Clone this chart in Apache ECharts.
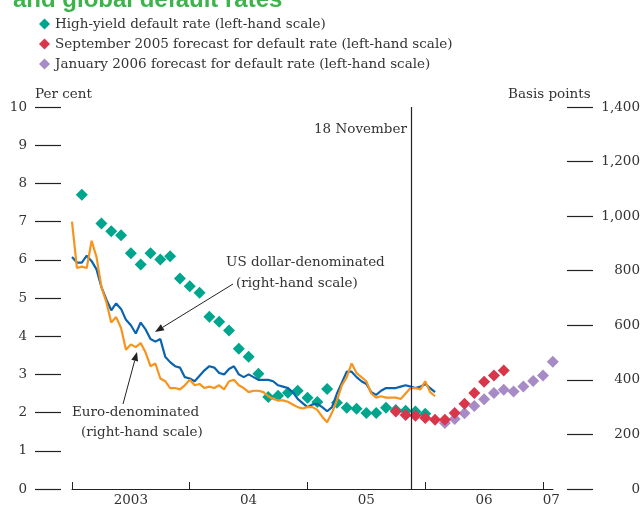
<!DOCTYPE html>
<html>
<head>
<meta charset="utf-8">
<script src="https://cdn.jsdelivr.net/npm/echarts@6/dist/echarts.min.js"></script>
<style>
html, body { margin: 0; padding: 0; background: #fff; }
#main { width: 644px; height: 509px; }
</style>
</head>
<body>
<div id="main"></div>
<script>
// 利差：每半月一个点，从2003年1月1日起（右轴，基点）
var spreadStart = 2003;
var usdSpread = [850, 830, 830, 855, 835, 805, 740, 695, 655, 680, 660, 620, 600, 570, 610, 585,
  550, 540, 550, 485, 465, 450, 445, 410, 405, 395, 415, 435, 450, 445, 425, 420,
  440, 450, 420, 410, 420, 410, 400, 400, 400, 395, 380, 375, 370, 355, 330, 315,
  300, 310, 312, 300, 285, 300, 350, 390, 430, 430, 410, 395, 385, 355, 345, 360,
  370, 370, 370, 375, 380, 375, 370, 375, 385, 370, 355];
var eurSpread = [980, 810, 815, 810, 910, 850, 740, 685, 610, 630, 590, 510, 530, 520, 535, 500,
  450, 460, 405, 395, 370, 370, 365, 380, 400, 380, 385, 370, 375, 370, 380, 365,
  395, 400, 380, 370, 355, 360, 360, 355, 340, 330, 325, 325, 320, 310, 300, 295,
  300, 300, 290, 265, 245, 280, 325, 380, 410, 460, 425, 410, 395, 350, 335, 340,
  335, 335, 335, 330, 350, 370, 370, 365, 395, 355, 340];

// 违约率（左轴，%），月份序号从2003年1月起算
var hyMonth0 = 1;
var hyDefault = [7.70, null, 6.95, 6.75, 6.64, 6.17, 5.88, 6.17, 6.01, 6.09, 5.51, 5.31,
  5.14, 4.51, 4.38, 4.15, 3.67, 3.46, 3.02, 2.41, 2.44, 2.52, 2.57, 2.39,
  2.28, 2.62, 2.26, 2.13, 2.10, 1.99, 1.99, 2.13, 2.07, 2.05, 2.03, 1.97];
var sepMonth0 = 33;
var sepForecast = [2.03, 1.94, 1.92, 1.86, 1.81, 1.81, 1.99, 2.23, 2.51, 2.81, 2.97, 3.10];
var janMonth0 = 38;
var janForecast = [1.73, 1.83, 1.98, 2.17, 2.35, 2.51, 2.60, 2.55, 2.68, 2.83, 2.97, 3.33];

var yearTicks = [2003, 2004, 2005, 2006, 2007];
var yearLabelPos = [2003.5, 2004.5, 2005.5, 2006.5, 2007.07];
var yearLabels = ['2003', '04', '05', '06', '07'];
var novemberLine = 2005.879; // 18 November 2005

var serif = '"DejaVu Serif", "Liberation Serif", serif';
var fs = 13.5;
var txt = '#333';

function halfMonthly(arr) {
    return arr.map(function (v, i) { return [spreadStart + i / 24, v]; });
}
function monthly(m0, arr) {
    return arr.map(function (v, i) { return [2003 + (m0 + i) / 12, v]; });
}
// 箭头注释
function arrow(x1, y1, x2, y2) {
    var dx = x2 - x1, dy = y2 - y1, len = Math.sqrt(dx * dx + dy * dy);
    var ux = dx / len, uy = dy / len, bx = x2 - 9 * ux, by = y2 - 9 * uy;
    return [
        { type: 'line', shape: { x1: x1, y1: y1, x2: bx, y2: by }, style: { stroke: '#222', lineWidth: 1 } },
        { type: 'polygon', shape: { points: [[x2, y2], [bx - 3.5 * uy, by + 3.5 * ux], [bx + 3.5 * uy, by - 3.5 * ux]] },
          style: { fill: '#222' } }
    ];
}
function label(text, x, y) {
    return { type: 'text', left: x, top: y, style: { text: text, font: fs + 'px ' + serif, fill: txt } };
}

var myChart = echarts.init(document.getElementById('main'));

var option = {
    animation: false,
    textStyle: { fontFamily: serif },
    legend: {
        orient: 'vertical',
        left: 34,
        top: 12,
        itemWidth: 11,
        itemHeight: 11,
        itemGap: 6,
        icon: 'diamond',
        textStyle: { fontFamily: serif, fontSize: fs, color: txt },
        data: ['High-yield default rate (left-hand scale)',
               'September 2005 forecast for default rate (left-hand scale)',
               'January 2006 forecast for default rate (left-hand scale)']
    },
    grid: { left: 72, right: 91, top: 107, bottom: 20 },
    xAxis: {
        type: 'value',
        min: 2003,
        max: 2007.085,
        splitLine: { show: false },
        axisLine: { lineStyle: { color: '#222', width: 1 } },
        axisTick: { inside: true, length: 7, customValues: yearTicks, lineStyle: { color: '#222' } },
        axisLabel: {
            customValues: yearLabelPos,
            margin: 4,
            fontSize: fs,
            color: txt,
            fontFamily: serif,
            formatter: function (v) {
                var i = yearLabelPos.indexOf(v);
                return i >= 0 ? yearLabels[i] : '';
            }
        }
    },
    yAxis: [
        {
            type: 'value',
            position: 'left',
            offset: 11,
            min: 0, max: 10, interval: 1,
            splitLine: { show: false },
            axisLine: { show: false },
            axisTick: { show: true, length: 26, lineStyle: { color: '#222', width: 1.2 } },
            axisLabel: { margin: 34, fontSize: fs, color: txt, fontFamily: serif }
        },
        {
            type: 'value',
            position: 'right',
            offset: 14,
            min: 0, max: 1400, interval: 200,
            splitLine: { show: false },
            axisLine: { show: false },
            axisTick: { show: true, length: 26, lineStyle: { color: '#222', width: 1.2 } },
            axisLabel: {
                margin: 73, align: 'right', fontSize: fs, color: txt, fontFamily: serif,
                formatter: function (v) { return v >= 1000 ? String(v).replace(/(\d)(\d{3})$/, '$1,$2') : String(v); }
            }
        }
    ],
    series: [
        {
            name: 'US dollar-denominated',
            type: 'line',
            yAxisIndex: 1,
            showSymbol: false,
            data: halfMonthly(usdSpread),
            lineStyle: { color: '#0a64ad', width: 2.2 },
            itemStyle: { color: '#0a64ad' },
            markLine: {
                silent: true,
                symbol: 'none',
                label: { show: false },
                lineStyle: { color: '#222', width: 1.2, type: 'solid' },
                data: [{ xAxis: novemberLine }]
            }
        },
        {
            name: 'Euro-denominated',
            type: 'line',
            yAxisIndex: 1,
            showSymbol: false,
            data: halfMonthly(eurSpread),
            lineStyle: { color: '#f7941d', width: 2.2 },
            itemStyle: { color: '#f7941d' }
        },
        {
            name: 'High-yield default rate (left-hand scale)',
            type: 'scatter',
            symbol: 'diamond',
            symbolSize: 12,
            data: monthly(hyMonth0, hyDefault),
            itemStyle: { color: '#00a58e', opacity: 1 }
        },
        {
            name: 'January 2006 forecast for default rate (left-hand scale)',
            type: 'scatter',
            symbol: 'diamond',
            symbolSize: 12,
            data: monthly(janMonth0, janForecast),
            itemStyle: { color: '#a78bc6', opacity: 1 }
        },
        {
            name: 'September 2005 forecast for default rate (left-hand scale)',
            type: 'scatter',
            symbol: 'diamond',
            symbolSize: 12,
            data: monthly(sepMonth0, sepForecast),
            itemStyle: { color: '#d9364b', opacity: 1 }
        }
    ],
    graphic: [
        { type: 'text', left: 13, top: -12, style: { text: 'and global default rates', font: 'bold 24px "Liberation Sans", sans-serif', fill: '#3cb44b' } },
        label('Per cent', 35, 87),
        label('Basis points', 508, 87),
        label('18 November', 314, 122),
        label('US dollar-denominated', 226, 255),
        label('(right-hand scale)', 236, 276),
        label('Euro-denominated', 72, 405),
        label('(right-hand scale)', 81, 425)
    ].concat(arrow(233, 284, 155, 332), arrow(123, 404, 137, 352))
};

myChart.setOption(option);
</script>
</body>
</html>
